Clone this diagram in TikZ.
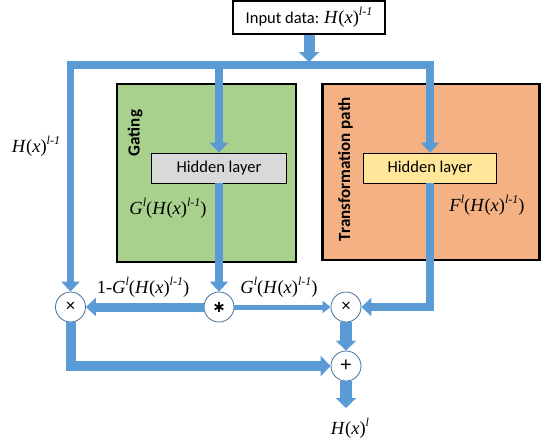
\documentclass[tikz,border=0pt]{standalone}
\usepackage{fontspec}
\setmainfont{Liberation Serif}
\newfontfamily\carl{Carlito}
\newfontfamily\lsans{Liberation Sans}
\newfontfamily\dvs{DejaVu Sans}
\usetikzlibrary{arrows.meta}
\definecolor{hwblue}{HTML}{5B9BD5}
\definecolor{hwline}{HTML}{41719C}
\definecolor{hwgreen}{HTML}{A9D18E}
\definecolor{hworange}{HTML}{F4B183}
\definecolor{hwgray}{HTML}{D9D9D9}
\definecolor{hwyellow}{HTML}{FFE699}
\newcommand\spx[1]{\raisebox{0.42em}{\fontsize{12}{12}\selectfont\itshape #1}}
\newcommand\Hx[1]{\textit{H}(\textit{x})\spx{#1}}
\tikzset{
  lab/.style={inner sep=0pt, font=\fontsize{18.5}{20}\selectfont},
  panel/.style={draw=black, line width=2.5pt, inner sep=0pt},
  hidbox/.style={draw=black, line width=0.8pt, minimum height=30pt, inner sep=0pt, font=\carl\fontsize{16.5}{18}\selectfont},
  opcirc/.style={circle, draw=hwline, line width=0.8pt, fill=white, minimum size=30pt, inner sep=0pt},
  flow/.style={draw=hwblue, line join=miter},
  bighead/.style={-{Triangle[width=20pt,length=10pt]}},
  midhead/.style={-{Triangle[width=18pt,length=10pt]}},
  smallhead/.style={-{Triangle[width=12pt,length=8pt]}},
  vtitle/.style={rotate=90, inner sep=0pt, font=\carl\bfseries\fontsize{17}{18}\selectfont},
}
\begin{document}
\begin{tikzpicture}[x=1pt,y=-1pt]
\useasboundingbox (0,0) rectangle (542,440);
% panels
\node[panel, fill=hwgreen, minimum width=179pt, minimum height=178pt] (gpanel) at (206.5,173) {};
\node[panel, fill=hworange, minimum width=217pt, minimum height=176pt] (tpanel) at (431,172) {};
\node[vtitle] (gating) at (135,133) {Gating};
\node[vtitle] (trans) at (345.5,169) {Transformation path};
% hidden layers
\node[hidbox, fill=hwgray, minimum width=135pt] (gh) at (219,168) {Hidden layer};
\node[hidbox, fill=hwyellow, minimum width=133pt] (yh) at (430,168) {Hidden layer};
% input
\node[draw=black, line width=1.2pt, minimum width=152pt, minimum height=33pt, inner sep=0pt] (in) at (309,17.5)
  {{\carl\fontsize{16.5}{18}\selectfont Input data: }{\fontsize{18.5}{20}\selectfont\Hx{l-1}}};
% operators
\node[opcirc] (lx) at (70.5,307) {\fontsize{17}{17}\selectfont\lsans ×};
\node[opcirc] (st) at (219,307) {\dvs\bfseries\fontsize{16}{16}\selectfont ∗};
\node[opcirc] (rx) at (346,307) {\fontsize{17}{17}\selectfont\lsans ×};
\node[opcirc] (pl) at (346,366) {\fontsize{20}{20}\selectfont\lsans +};
\coordinate (bar) at (309,65);
\coordinate (out) at (346,408);
% connectors
\draw[flow, line width=11pt, bighead] (in.south) -- (309,62);
\draw[flow, line width=7.5pt, {Triangle[width=18pt,length=10pt]}-{Triangle[width=18pt,length=10pt]}]
  (lx.north) |- (bar) -| (yh.north);
\draw[flow, line width=8pt, midhead] (gh.north |- bar) -- (gh.north);
\draw[flow, line width=8pt, midhead] (gh.south) -- (st.north);
\draw[flow, line width=8.5pt, midhead] (yh.south) |- (rx.east);
\draw[flow, line width=9pt, midhead] (st.west) -- (lx.east);
\draw[flow, line width=5pt, smallhead] (st.east) -- (rx.west);
\draw[flow, line width=12pt, bighead] (rx.south) -- (pl.north);
\draw[flow, line width=10pt, bighead] (lx.south) |- (pl.west);
\draw[flow, line width=12pt, bighead] (pl.south) -- (out);
% labels
\node[lab] (lhx) at (36,146) {\Hx{l-1}};
\node[lab] (glab) at (168,208) {\textit{G}\spx{l}(\Hx{l-1})};
\node[lab] (flab) at (487,205) {\textit{F}\spx{l}(\Hx{l-1})};
\node[lab] (onemg) at (143,287) {1-\textit{G}\spx{l}(\Hx{l-1})};
\node[lab] (glab2) at (279,287) {\textit{G}\spx{l}(\Hx{l-1})};
\node[lab] (outlab) at (350,428) {\Hx{l}};
\end{tikzpicture}
\end{document}
